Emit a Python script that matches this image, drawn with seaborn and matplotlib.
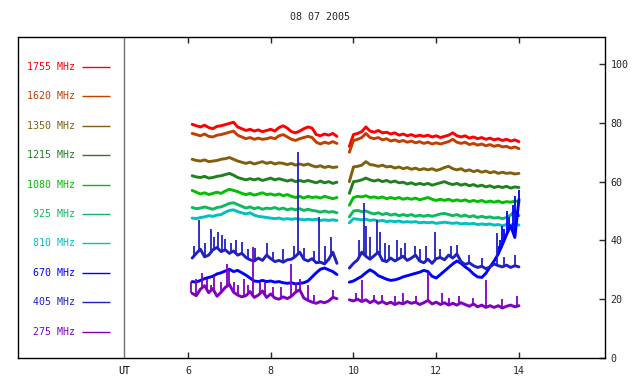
import matplotlib
matplotlib.use("Agg")
import matplotlib.pyplot as plt
import matplotlib.transforms as mtransforms
import numpy as np
import pandas as pd
import seaborn as sns

# ---------------- data ----------------
title = "08 07 2005"
freqs = ["1755 MHz", "1620 MHz", "1350 MHz", "1215 MHz", "1080 MHz",
         "925 MHz", "810 MHz", "670 MHz", "405 MHz", "275 MHz"]
colors = ["#ff0000", "#c04000", "#806010", "#208020", "#00c000",
          "#10b860", "#00c0c0", "#0000ff", "#2020c0", "#8000c0"]
x_ticks = [6, 8, 10, 12, 14]
y_ticks = [0, 20, 40, 60, 80, 100]

t1 = [6.1, 6.2, 6.3, 6.4, 6.5, 6.6, 6.7, 6.8, 6.9, 7.0,
      7.1, 7.2, 7.3, 7.4, 7.5, 7.6, 7.7, 7.8, 7.9, 8.0,
      8.1, 8.2, 8.3, 8.4, 8.5, 8.6, 8.7, 8.8, 8.9, 9.0,
      9.1, 9.2, 9.3, 9.4, 9.5, 9.6]
t2 = [9.9, 10.0, 10.1, 10.2, 10.3, 10.4, 10.5, 10.6, 10.7, 10.8,
      10.9, 11.0, 11.1, 11.2, 11.3, 11.4, 11.5, 11.6, 11.7, 11.8,
      11.9, 12.0, 12.1, 12.2, 12.3, 12.4, 12.5, 12.6, 12.7, 12.8,
      12.9, 13.0, 13.1, 13.2, 13.3, 13.4, 13.5, 13.6, 13.7, 13.8,
      13.9, 14.0]

f1755_a = [79.5, 79.0, 78.6, 79.2, 78.4, 78.0, 78.8, 79.0, 79.4, 79.8,
           80.2, 78.6, 78.0, 77.4, 77.8, 77.2, 77.6, 77.0, 77.4, 77.8,
           77.2, 78.4, 79.0, 78.2, 77.0, 76.6, 77.2, 78.0, 78.6, 78.2,
           76.0, 75.6, 76.2, 75.8, 76.4, 75.4]
f1755_b = [72.0, 76.0, 76.4, 77.0, 78.6, 77.2, 76.8, 77.4, 76.6, 76.8,
           76.2, 76.6, 75.8, 76.2, 75.6, 76.0, 75.4, 75.8, 75.4, 75.8,
           75.2, 75.6, 75.0, 75.4, 75.8, 76.6, 75.6, 75.2, 75.6, 74.8,
           75.2, 74.6, 75.0, 74.4, 74.8, 74.2, 74.6, 74.0, 74.4, 73.8,
           74.2, 73.6]

f1620_a = [76.4, 76.0, 75.6, 76.2, 75.4, 75.2, 75.8, 76.0, 76.4, 76.8,
           77.2, 75.8, 75.2, 74.6, 75.0, 74.4, 74.8, 74.4, 74.6, 75.0,
           74.6, 75.6, 76.0, 75.2, 74.4, 74.0, 74.6, 75.0, 75.4, 75.0,
           73.4, 72.8, 73.4, 73.0, 73.6, 73.0]
f1620_b = [70.0, 74.0, 74.4, 75.0, 76.4, 75.0, 74.6, 75.0, 74.2, 74.6,
           73.8, 74.2, 73.6, 74.0, 73.4, 73.8, 73.2, 73.6, 73.0, 73.4,
           72.8, 73.2, 72.8, 73.2, 73.6, 74.4, 73.4, 73.0, 73.4, 72.6,
           73.0, 72.4, 72.8, 72.2, 72.6, 72.0, 72.4, 71.8, 72.0, 71.4,
           71.8, 71.2]

f1350_a = [67.6, 67.2, 67.0, 67.4, 66.8, 67.0, 67.2, 67.6, 67.8, 68.2,
           67.6, 67.0, 66.6, 66.2, 66.6, 66.0, 66.4, 66.8, 66.2, 66.6,
           66.0, 66.4, 66.2, 65.8, 66.2, 65.6, 66.0, 65.6, 66.0, 65.4,
           65.0, 65.4, 64.8, 65.2, 64.8, 65.0]
f1350_b = [60.0, 65.0, 65.2, 65.6, 66.8, 65.8, 65.6, 65.2, 65.6, 65.0,
           65.2, 64.6, 65.0, 64.4, 64.8, 64.2, 64.6, 64.0, 64.4, 64.0,
           64.4, 63.8, 64.2, 64.8, 65.2, 64.4, 64.0, 64.4, 63.6, 64.0,
           63.4, 63.8, 63.2, 63.6, 63.0, 63.4, 62.8, 63.2, 62.8, 63.0,
           62.6, 62.8]

f1215_a = [62.0, 61.6, 61.4, 61.8, 61.2, 61.4, 61.8, 62.0, 62.4, 62.8,
           62.2, 61.4, 61.0, 60.6, 61.0, 60.6, 61.0, 60.4, 60.8, 61.2,
           60.6, 61.0, 60.6, 60.2, 60.6, 60.0, 60.4, 60.0, 60.4, 60.0,
           59.6, 60.2, 59.6, 60.0, 59.4, 59.8]
f1215_b = [56.0, 60.0, 60.2, 60.6, 61.2, 60.6, 60.2, 60.6, 60.0, 60.4,
           59.8, 60.2, 59.6, 59.8, 59.2, 59.6, 59.0, 59.4, 59.0, 59.4,
           58.8, 59.2, 59.6, 60.0, 59.4, 59.0, 59.4, 58.8, 59.2, 58.6,
           59.0, 58.4, 58.8, 58.2, 58.6, 58.0, 58.4, 58.0, 58.4, 57.8,
           58.2, 58.0]

f1080_a = [57.0, 56.4, 55.8, 56.2, 55.6, 56.0, 56.4, 56.0, 56.8, 57.4,
           57.0, 56.6, 56.0, 55.6, 56.0, 55.4, 55.8, 56.2, 55.6, 55.8,
           55.4, 55.8, 55.2, 55.6, 55.0, 54.6, 55.0, 54.4, 55.0, 54.6,
           54.8, 54.4, 55.0, 54.6, 54.2, 54.6]
f1080_b = [52.0, 54.6, 55.0, 54.8, 55.2, 54.6, 54.8, 54.4, 54.8, 54.2,
           54.6, 54.2, 54.6, 54.0, 54.4, 54.0, 54.4, 53.8, 54.2, 54.6,
           54.0, 53.6, 54.0, 53.6, 54.0, 53.4, 53.8, 53.4, 53.8, 53.2,
           53.6, 53.2, 53.6, 53.0, 53.4, 53.0, 53.4, 52.8, 53.2, 53.0,
           53.4, 53.2]

f925_a = [51.2, 50.8, 51.0, 51.4, 51.0, 50.6, 51.2, 51.4, 52.0, 52.6,
          52.8, 52.2, 51.6, 51.0, 51.4, 50.8, 51.2, 50.6, 51.0, 50.8,
          51.2, 50.6, 51.0, 50.4, 50.8, 50.4, 50.8, 50.2, 50.6, 50.2,
          50.0, 49.6, 50.0, 49.6, 49.8, 49.4]
f925_b = [48.0, 50.0, 50.2, 49.8, 50.0, 49.4, 49.0, 49.4, 48.8, 49.2,
          48.6, 49.0, 48.4, 48.8, 48.4, 48.8, 48.2, 48.6, 48.2, 48.6,
          48.2, 48.6, 49.0, 49.2, 48.8, 48.4, 48.8, 48.2, 48.6, 48.0,
          48.4, 47.8, 48.2, 47.8, 48.0, 47.6, 47.8, 47.4, 47.8, 48.6,
          50.2, 48.4]

f810_a = [47.6, 47.4, 47.8, 48.0, 48.4, 48.2, 48.6, 48.8, 49.6, 50.2,
          50.4, 49.8, 49.4, 49.0, 49.4, 48.6, 48.2, 48.0, 47.8, 47.6,
          47.4, 47.6, 47.2, 47.4, 47.2, 47.4, 47.2, 47.0, 47.2, 47.0,
          47.2, 46.8, 47.0, 46.8, 47.0, 46.8]
f810_b = [46.0, 47.4, 47.2, 47.0, 47.2, 46.8, 47.0, 46.6, 46.8, 46.4,
          46.6, 46.4, 46.6, 46.2, 46.4, 46.2, 46.4, 46.0, 46.2, 46.0,
          46.2, 45.8, 46.0, 46.2, 46.0, 45.8, 46.0, 45.6, 45.8, 45.6,
          45.8, 45.4, 45.6, 45.4, 45.6, 45.2, 45.4, 45.0, 45.4, 45.2,
          45.6, 45.2]

f670_a = [26.0, 25.8, 26.4, 27.0, 27.4, 27.8, 28.6, 29.0, 29.6, 30.2,
          29.4, 29.8, 29.0, 28.2, 27.2, 26.2, 26.0, 26.4, 26.0, 26.2,
          25.8, 26.0, 25.6, 25.4, 25.6, 25.2, 25.4, 25.6, 26.2, 27.6,
          29.0, 30.2, 30.6, 30.0, 29.4, 28.4]
f670_b = [25.8, 26.2, 27.0, 27.8, 29.0, 30.0, 29.2, 28.0, 27.4, 26.8,
          26.4, 26.6, 27.0, 27.6, 28.0, 28.4, 28.8, 29.2, 29.8, 29.4,
          27.8, 27.2, 28.4, 29.6, 30.8, 32.0, 33.0, 32.2, 31.0, 30.0,
          28.6, 27.6, 27.4, 28.8, 31.0, 33.0, 35.4, 38.6, 42.0, 45.0,
          41.0, 54.0]

f405_a = [34.0, 35.6, 37.0, 34.4, 35.0, 36.8, 37.6, 36.2, 36.8, 35.6,
          36.4, 35.0, 35.6, 34.2, 33.4, 33.0, 34.0, 33.2, 35.0, 33.8,
          32.8, 33.2, 32.6, 33.4, 33.6, 34.6, 36.0, 33.6, 33.0, 33.8,
          32.4, 32.6, 32.0, 33.6, 36.0, 32.2]
f405_b = [30.6, 32.2, 33.4, 36.0, 34.6, 33.6, 34.8, 36.0, 33.2, 32.8,
          34.0, 33.0, 33.8, 34.6, 33.2, 34.0, 35.0, 33.0, 32.4, 33.6,
          32.2, 33.8, 34.2, 33.4, 35.0, 34.0, 35.4, 32.8, 31.8, 32.4,
          31.4, 30.8, 31.2, 30.4, 31.0, 32.0, 31.4, 31.0, 31.6, 30.8,
          31.4, 31.0]

f275_a = [22.0, 21.2, 23.4, 24.6, 22.2, 23.6, 21.0, 22.4, 24.0, 25.0,
          22.4, 21.4, 20.8, 21.2, 22.6, 20.6, 21.4, 22.8, 20.6, 21.8,
          20.4, 20.0, 20.8, 20.2, 21.0, 22.4, 23.2, 20.4, 19.6, 19.0,
          18.6, 19.2, 18.8, 19.4, 20.6, 20.2]
f275_b = [19.8, 19.4, 20.0, 19.2, 19.8, 18.8, 19.6, 18.6, 19.2, 18.4,
          19.0, 18.2, 18.8, 18.4, 19.2, 18.6, 19.0, 18.2, 18.8, 19.6,
          18.4, 19.0, 18.2, 18.8, 18.0, 18.6, 18.0, 18.8, 18.2, 17.6,
          18.4, 17.4, 18.0, 17.2, 17.8, 17.2, 17.8, 17.0, 17.6, 18.0,
          17.4, 17.8]

# bursts (time, peak value)
spk405_t = [6.15, 6.27, 6.40, 6.55, 6.62, 6.72, 6.82, 6.90, 7.05, 7.15,
            7.30, 7.45, 7.62, 7.90, 8.05, 8.30, 8.55, 8.66, 8.80, 9.05,
            9.16, 9.30, 9.45,
            10.13, 10.25, 10.30, 10.40, 10.56, 10.65, 10.75, 10.85, 11.05,
            11.15, 11.25, 11.48, 11.60, 11.75, 11.97, 12.10, 12.35, 12.50,
            12.80, 13.10, 13.47, 13.65, 13.90]
spk405_v = [38.0, 47.0, 39.0, 44.0, 41.0, 43.0, 42.0, 40.5, 39.0, 40.0,
            39.5, 37.0, 37.5, 39.0, 36.0, 37.0, 38.0, 70.0, 37.5, 36.5,
            48.0, 38.0, 41.0,
            40.0, 52.7, 45.0, 41.0, 47.0, 43.0, 39.0, 38.5, 40.0,
            37.5, 39.0, 38.0, 37.0, 38.0, 43.0, 37.0, 38.0, 38.5,
            35.0, 34.0, 42.5, 34.5, 35.0]
spk275_t = [6.08, 6.20, 6.35, 6.45, 6.55, 6.62, 6.80, 6.95, 7.00, 7.10,
            7.20, 7.35, 7.45, 7.57, 7.75, 7.85, 8.05, 8.25, 8.50, 8.60,
            8.70, 8.90, 9.05, 9.50,
            10.05, 10.20, 10.50, 10.70, 11.00, 11.20, 11.50, 11.80, 12.15,
            12.30, 12.55, 12.90, 13.20, 13.60, 13.95]
spk275_v = [26.0, 27.0, 29.0, 27.0, 25.0, 28.0, 26.0, 32.0, 30.0, 26.0,
            25.0, 27.0, 25.0, 37.8, 26.0, 26.0, 24.0, 24.0, 32.0, 25.5,
            27.0, 25.0, 21.5, 23.0,
            22.0, 26.5, 21.5, 21.5, 21.0, 22.0, 21.0, 29.0, 22.0,
            20.5, 21.0, 20.5, 26.5, 20.0, 21.0]
spk670_t = [13.52, 13.55, 13.60, 13.65, 13.70, 13.75, 13.80, 13.85, 13.90,
            13.95, 13.98, 14.0]
spk670_v = [38.0, 40.0, 45.0, 44.0, 50.0, 48.0, 44.0, 52.0, 55.0,
            50.0, 48.0, 57.0]

series = {
    "1755 MHz": (f1755_a, f1755_b), "1620 MHz": (f1620_a, f1620_b),
    "1350 MHz": (f1350_a, f1350_b), "1215 MHz": (f1215_a, f1215_b),
    "1080 MHz": (f1080_a, f1080_b), "925 MHz": (f925_a, f925_b),
    "810 MHz": (f810_a, f810_b), "670 MHz": (f670_a, f670_b),
    "405 MHz": (f405_a, f405_b), "275 MHz": (f275_a, f275_b),
}

rows = []
for name, (a, b) in series.items():
    assert len(a) == len(t1) and len(b) == len(t2), name
    for t, v in zip(t1, a):
        rows.append((t, v, name, 1))
    for t, v in zip(t2, b):
        rows.append((t, v, name, 2))
df = pd.DataFrame(rows, columns=["t", "v", "freq", "seg"])

# ---------------- plot ----------------
sns.set_style("white")
plt.rcParams["font.family"] = ["DejaVu Sans Mono"]
plt.rcParams["font.size"] = 7.2

fig = plt.figure(figsize=(6.4, 3.84), dpi=100)
ax = fig.add_axes([18 / 640, 26 / 384, 587 / 640, 321 / 384])

palette = dict(zip(freqs, colors))
sns.lineplot(data=df, x="t", y="v", hue="freq", units="seg", estimator=None,
             palette=palette, hue_order=freqs, legend=False, lw=2.1, ax=ax)


def bursts(tt, vv, name):
    ta, tb = series[name]
    tall = t1 + t2
    vall = list(ta) + list(tb)
    base = np.interp(tt, tall, vall)
    ax.vlines(tt, base, vv, colors=palette[name], lw=1.3)


bursts(spk405_t, spk405_v, "405 MHz")
bursts(spk275_t, spk275_v, "275 MHz")
bursts(spk670_t, spk670_v, "670 MHz")

ax.set_xlim(1.89, 16.08)
ax.set_ylim(0, 109.2)

# legend column at left
for i, (name, col) in enumerate(zip(freqs, colors)):
    yv = 99 - 10 * i
    ax.text(3.27, yv, name, ha="right", va="center", color=col, fontsize=7.2)
    ax.hlines(yv, 3.44, 4.11, colors=col, lw=1.0)

ax.axvline(4.45, color="#707070", lw=1.0)
trans = mtransforms.blended_transform_factory(ax.transData, ax.transAxes)
ax.text(4.45, -0.04, "UT", ha="center", va="center", transform=trans,
        fontsize=7.2, color="black")

ax.set_xticks(x_ticks)
ax.set_xticklabels([str(v) for v in x_ticks])
ax.set_yticks(y_ticks)
ax.set_yticklabels([str(v) for v in y_ticks])
ax.tick_params(axis="x", which="both", direction="in", top=True, bottom=True,
               length=4, width=1, pad=6, labelsize=7.2)
ax.tick_params(axis="y", which="both", direction="in", left=False, right=True,
               labelleft=False, labelright=True, length=4, width=1, pad=4,
               labelsize=7.2)
ax.set_xlabel("")
ax.set_ylabel("")
for s in ax.spines.values():
    s.set_visible(True)
    s.set_color("black")
    s.set_linewidth(1.0)

fig.text(0.5, 1 - 17 / 384, title, ha="center", va="center", fontsize=7.2)

fig.savefig("out.png", dpi=100)
